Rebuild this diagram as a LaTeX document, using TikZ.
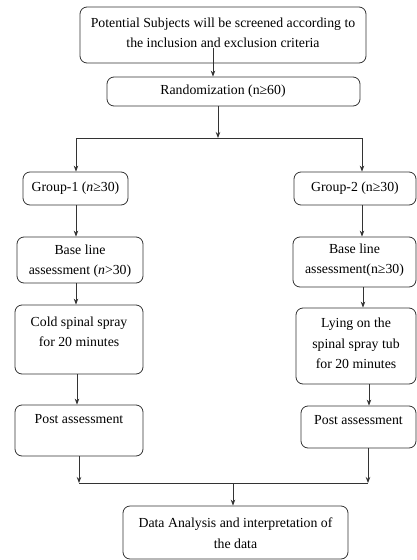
\documentclass[tikz,border=0pt]{standalone}
\usepackage{fontspec}
\setmainfont{Liberation Serif}
\usetikzlibrary{arrows.meta}
\begin{document}
\begin{tikzpicture}[x=1pt,y=-1pt,
  box/.style={draw=black!80, line width=0.8pt, rounded corners=7pt, inner sep=0pt},
  txt/.style={align=center, font=\fontsize{13.8}{20.5}\selectfont, inner sep=0pt},
  arr/.style={draw=black!80, line width=0.8pt, -{Stealth[length=6pt,width=4.5pt]}},
  ln/.style={draw=black!80, line width=0.8pt}]
\useasboundingbox (0,0) rectangle (417,560);
% boxes
\node[box, minimum width=286pt, minimum height=56pt] (top) at (223,35) {};
\node[txt] (toptxt) at (223,33) {Potential Subjects will be screened according to\\the inclusion and exclusion criteria};
\node[box, minimum width=253pt, minimum height=29pt] (rand) at (233.5,91.5) {};
\node[txt] (randtxt) at (223,91) {Randomization (n≥60)};
\node[box, minimum width=105pt, minimum height=33pt] (g1) at (75.5,188.5) {};
\node[txt] (g1txt) at (75.5,188) {Group-1 (\textit{n}≥30)};
\node[box, minimum width=122pt, minimum height=33pt] (g2) at (355,188.5) {};
\node[txt] (g2txt) at (355,188) {Group-2 (n≥30)};
\node[box, minimum width=126pt, minimum height=46pt] (b1) at (80,260) {};
\node[txt] (b1txt) at (80,261) {Base line\\assessment (\textit{n}>30)};
\node[box, minimum width=123pt, minimum height=50pt] (b2) at (354.5,262) {};
\node[txt] (b2txt) at (354.5,260) {Base line\\assessment(n≥30)};
\node[box, minimum width=128pt, minimum height=69pt] (c1) at (79,339.5) {};
\node[txt] (c1txt) at (79,332) {Cold spinal spray\\for 20 minutes};
\node[box, minimum width=120pt, minimum height=76pt] (l2) at (356,346) {};
\node[txt] (l2txt) at (356,343.5) {Lying on the\\spinal spray tub\\for 20 minutes};
\node[box, minimum width=128pt, minimum height=51pt] (p1) at (79,430.5) {};
\node[txt] (p1txt) at (79,419) {Post assessment};
\node[box, minimum width=115pt, minimum height=42pt] (p2) at (358.5,427) {};
\node[txt] (p2txt) at (358.5,420) {Post assessment};
\node[box, minimum width=225pt, minimum height=53pt] (fin) at (235.5,532.5) {};
\node[txt] (fintxt) at (235.5,533) {Data Analysis and interpretation of\\the data};
% connector coordinates
\coordinate (s0) at (213,48);
\coordinate (j1) at (218,138);
\coordinate (jl) at (76,138);
\coordinate (jr) at (362,138);
\coordinate (k1) at (79,483);
\coordinate (k2) at (368,483);
\coordinate (k3) at (233,483);
% connectors
\draw[arr] (s0) -- (s0 |- rand.north);
\draw[arr] (rand.south -| j1) -- (j1);
\draw[ln] (jl) -- (jr);
\draw[arr] (jl) -- (jl |- g1.north);
\draw[arr] (jr) -- (jr |- g2.north);
\draw[arr] (g1.south -| jl) -- (jl |- b1.north);
\draw[arr] (g2.south -| jr) -- (jr |- b2.north);
\draw[arr] (b1.south -| jl) -- (jl |- c1.north);
\draw[arr] ([xshift=1pt]b2.south -| jr) -- ([xshift=1pt]jr |- l2.north);
\draw[arr] ([xshift=1pt]c1.south -| jl) -- ([xshift=1pt]jl |- p1.north);
\draw[arr] ([xshift=7pt]l2.south -| jr) -- ([xshift=7pt]jr |- p2.north);
\draw[arr] (p1.south -| k1) -- (k1);
\draw[arr] (p2.south -| k2) -- (k2);
\draw[ln] (k1) -- (k2);
\draw[arr] (k3) -- (k3 |- fin.north);
\end{tikzpicture}
\end{document}
